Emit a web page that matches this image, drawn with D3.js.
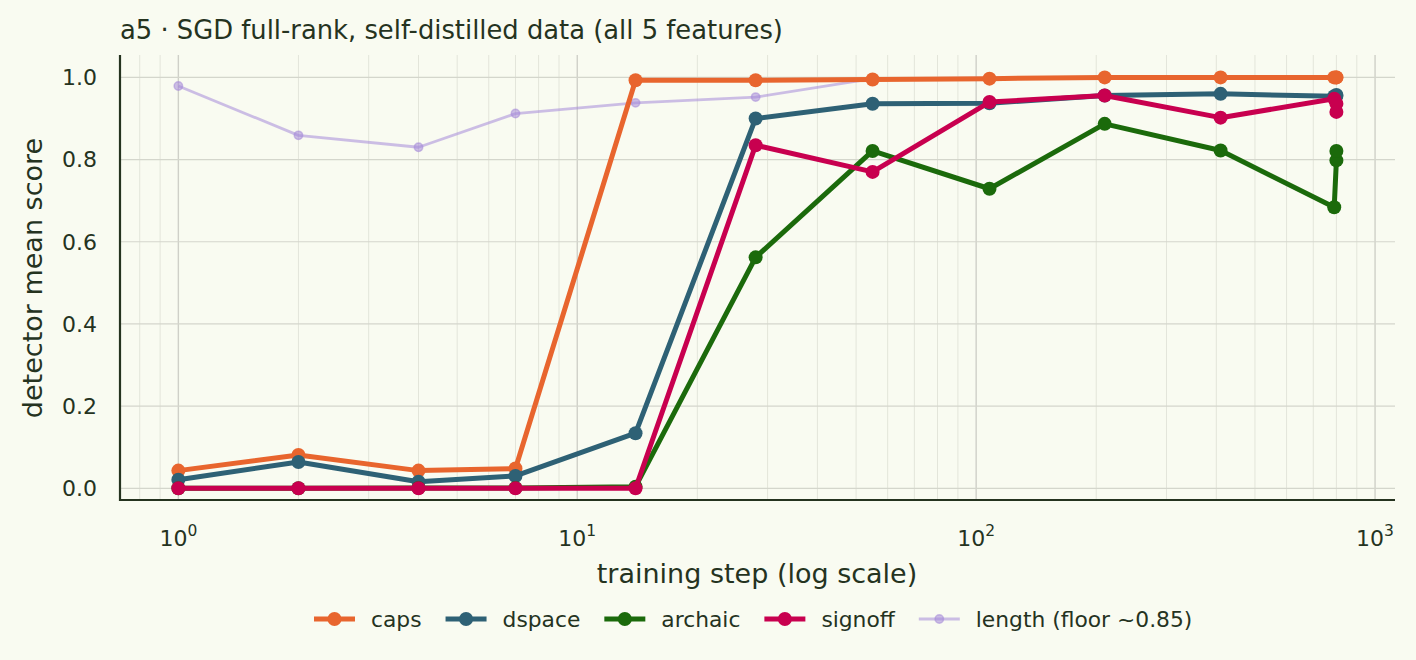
<!DOCTYPE html>
<html>
<head>
<meta charset="utf-8">
<script src="https://cdn.jsdelivr.net/npm/d3@7"></script>
<style>
  html, body { margin: 0; padding: 0; background: #f9fbf1; }
  svg { display: block; font-family: "DejaVu Sans", sans-serif; }
</style>
</head>
<body>
<div id="chart"></div>
<script>
// training steps (log x), shared by all series
const steps = [1, 2, 4, 7, 14, 28, 55, 108, 210, 410, 790, 800, 800];

const caps    = [0.043, 0.081, 0.043, 0.048, 0.993, 0.993, 0.995, 0.997, 1.0, 1.0, 1.0, 1.0, 1.0];
const dspace  = [0.021, 0.064, 0.016, 0.030, 0.134, 0.900, 0.936, 0.937, 0.956, 0.960, 0.954, 0.957, 0.955];
const archaic = [0.0, 0.0, 0.001, 0.001, 0.004, 0.562, 0.821, 0.729, 0.887, 0.822, 0.684, 0.798, 0.821];
const signoff = [0.0, 0.0, 0.0, 0.0, 0.0, 0.835, 0.770, 0.940, 0.956, 0.902, 0.948, 0.936, 0.916];
const lengthS = [0.979, 0.859, 0.830, 0.912, 0.938, 0.952, 0.997, 0.998, 1.0, 1.0, 1.0, 1.0, 1.0];

const seriesNames = ["caps", "dspace", "archaic", "signoff", "length (floor ~0.85)"];
const yTicks = [0, 0.2, 0.4, 0.6, 0.8, 1.0];
const xTicks = [1, 10, 100, 1000];

const width = 1416,
	height = 660,
	ink = "#25331f";

const series = [
	{ name: seriesNames[0], values: caps, color: "#e8652e", lw: 5, r: 7, op: 1 },
	{ name: seriesNames[1], values: dspace, color: "#2e6175", lw: 5, r: 7, op: 1 },
	{ name: seriesNames[2], values: archaic, color: "#1b6a0b", lw: 5, r: 7, op: 1 },
	{ name: seriesNames[3], values: signoff, color: "#c8004f", lw: 5, r: 7, op: 1 },
	{ name: seriesNames[4], values: lengthS, color: "#a68ad9", lw: 2.8, r: 4.2, op: 0.55 }
];

const svg = d3
	.select("#chart")
	.append("svg")
	.attr("width", width)
	.attr("height", height);

svg.append("rect").attr("width", width).attr("height", height).attr("fill", "#f9fbf1");

const x = d3.scaleLog().domain([0.714, 1122]).range([120, 1395]);
const y = d3.scaleLinear().domain([-0.0285, 1.0545]).range([500, 55]);

// grid: minor + major verticals, horizontal at ticks
const grid = svg.append("g");
grid
	.selectAll(".vminor")
	.data(x.ticks().filter((t) => t >= x.domain()[0] && t <= x.domain()[1]))
	.enter()
	.append("line")
	.attr("x1", (d) => x(d))
	.attr("x2", (d) => x(d))
	.attr("y1", y.range()[1])
	.attr("y2", y.range()[0])
	.attr("stroke", (d) => (xTicks.includes(d) ? "#cfd0c8" : "#e3e5da"))
	.attr("stroke-width", (d) => (xTicks.includes(d) ? 1.4 : 1));

grid
	.selectAll(".hgrid")
	.data(yTicks)
	.enter()
	.append("line")
	.attr("x1", x.range()[0])
	.attr("x2", x.range()[1])
	.attr("y1", (d) => y(d))
	.attr("y2", (d) => y(d))
	.attr("stroke", "#d4d6cc")
	.attr("stroke-width", 1.2);

// lines, length drawn first so it sits underneath
const line = d3
	.line()
	.x((d) => x(d[0]))
	.y((d) => y(d[1]));

const drawOrder = [series[4], series[0], series[1], series[2], series[3]];
drawOrder.forEach((s) => {
	const pts = steps.map((st, i) => [st, s.values[i]]);
	const g = svg.append("g");
	g.append("path")
		.datum(pts)
		.attr("d", line)
		.attr("fill", "none")
		.attr("stroke", s.color)
		.attr("stroke-opacity", s.op)
		.attr("stroke-width", s.lw)
		.attr("stroke-linejoin", "round");
	g.selectAll("circle")
		.data(pts)
		.enter()
		.append("circle")
		.attr("cx", (d) => x(d[0]))
		.attr("cy", (d) => y(d[1]))
		.attr("r", s.r)
		.attr("fill", s.color)
		.attr("fill-opacity", s.op)
		.attr("stroke", s.op < 1 ? s.color : "none")
		.attr("stroke-opacity", s.op)
		.attr("stroke-width", 1.5);
});

// spines
svg.append("line")
	.attr("x1", 120).attr("x2", 120)
	.attr("y1", y.range()[1]).attr("y2", y.range()[0] + 1)
	.attr("stroke", ink).attr("stroke-width", 2.2);
svg.append("line")
	.attr("x1", 119).attr("x2", x.range()[1])
	.attr("y1", 500).attr("y2", 500)
	.attr("stroke", ink).attr("stroke-width", 2.2);

// y tick labels
svg.selectAll(".ylab")
	.data(yTicks)
	.enter()
	.append("text")
	.attr("x", 97)
	.attr("y", (d) => y(d))
	.attr("dy", "0.36em")
	.attr("text-anchor", "end")
	.attr("font-size", 22)
	.attr("fill", ink)
	.text((d) => d3.format(".1f")(d));

// x tick labels as 10^n
const xl = svg.selectAll(".xlab")
	.data(xTicks)
	.enter()
	.append("text")
	.attr("x", (d) => x(d))
	.attr("y", 546)
	.attr("text-anchor", "middle")
	.attr("font-size", 22)
	.attr("fill", ink);
xl.append("tspan").text("10");
xl.append("tspan")
	.attr("dy", -10)
	.attr("font-size", 15.5)
	.text((d) => Math.round(Math.log10(d)));

// axis labels and title
svg.append("text")
	.attr("x", 757)
	.attr("y", 583)
	.attr("text-anchor", "middle")
	.attr("font-size", 27)
	.attr("fill", ink)
	.text("training step (log scale)");

svg.append("text")
	.attr("transform", "translate(42,278) rotate(-90)")
	.attr("text-anchor", "middle")
	.attr("font-size", 27)
	.attr("fill", ink)
	.text("detector mean score");

svg.append("text")
	.attr("x", 120)
	.attr("y", 39)
	.attr("font-size", 25.8)
	.attr("fill", ink)
	.text("a5 · SGD full-rank, self-distilled data (all 5 features)");

// legend
const legend = svg.append("g").attr("transform", "translate(0,619)");
let lx = 314;
series.forEach((s) => {
	const g = legend.append("g").attr("transform", `translate(${lx},0)`);
	g.append("line")
		.attr("x1", 0).attr("x2", 41)
		.attr("stroke", s.color)
		.attr("stroke-width", s.lw)
		.attr("stroke-opacity", s.op);
	g.append("circle")
		.attr("cx", 20.5)
		.attr("r", s.r)
		.attr("fill", s.color)
		.attr("fill-opacity", s.op)
		.attr("stroke", s.op < 1 ? s.color : "none")
		.attr("stroke-opacity", s.op)
		.attr("stroke-width", 1.5);
	const t = g.append("text")
		.attr("x", 57)
		.attr("dy", "0.35em")
		.attr("font-size", 21.8)
		.attr("fill", ink)
		.text(s.name);
	lx += 57 + t.node().getComputedTextLength() + 24;
});
</script>
</body>
</html>
